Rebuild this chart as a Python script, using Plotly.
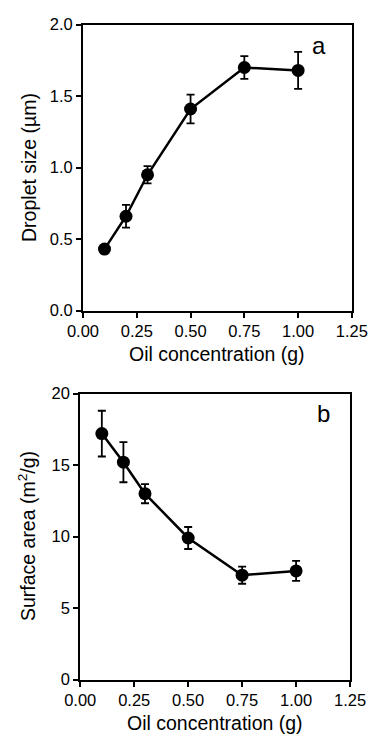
import plotly.graph_objects as go

oil = [0.1, 0.2, 0.3, 0.5, 0.75, 1.0]
droplet_size = [0.43, 0.66, 0.95, 1.41, 1.70, 1.68]
droplet_err = [0.02, 0.08, 0.06, 0.10, 0.08, 0.13]
surface_area = [17.2, 15.2, 13.0, 9.9, 7.3, 7.6]
surface_err = [1.6, 1.4, 0.67, 0.77, 0.6, 0.7]

x_ticks = [0, 0.25, 0.5, 0.75, 1.0, 1.25]
x_ticklabels = ["0.00", "0.25", "0.50", "0.75", "1.00", "1.25"]
y1_ticks = [0, 0.5, 1.0, 1.5, 2.0]
y1_ticklabels = ["0.0", "0.5", "1.0", "1.5", "2.0"]
y2_ticks = [0, 5, 10, 15, 20]

W, H = 389, 752
OFF = 8  # default page body margin
FONT = "Liberation Sans, Arial, Helvetica, sans-serif"

def px(v):
    return (v - OFF) / W

def py(v):
    return 1 - (v - OFF) / H

fig = go.Figure()
fig.add_trace(go.Scatter(
    x=oil, y=droplet_size, mode="lines+markers",
    line=dict(color="black", width=2.5),
    marker=dict(color="black", size=13),
    error_y=dict(type="data", array=droplet_err, color="black", thickness=1.8, width=4),
    xaxis="x", yaxis="y", showlegend=False))
fig.add_trace(go.Scatter(
    x=oil, y=surface_area, mode="lines+markers",
    line=dict(color="black", width=2.5),
    marker=dict(color="black", size=13),
    error_y=dict(type="data", array=surface_err, color="black", thickness=1.8, width=4),
    xaxis="x2", yaxis="y2", showlegend=False))

axis_common = dict(showgrid=False, zeroline=False, showline=True, linecolor="black",
                   linewidth=2, mirror=True, ticks="outside", ticklen=5,
                   tickwidth=2, tickcolor="black", ticklabeloverflow="allow",
                   tickfont=dict(family=FONT, size=16.5, color="black"))

fig.update_layout(
    width=W, height=H, margin=dict(l=0, r=0, t=0, b=0),
    paper_bgcolor="white", plot_bgcolor="white",
    xaxis=dict(domain=[px(81), px(374)], range=[0, 1.25], tickvals=x_ticks,
               ticktext=x_ticklabels, anchor="y", **axis_common),
    yaxis=dict(domain=[py(317), py(24)], range=[0, 2.0], tickvals=y1_ticks,
               ticktext=y1_ticklabels, anchor="x", **axis_common),
    xaxis2=dict(domain=[px(78), px(372)], range=[0, 1.25], tickvals=x_ticks,
                ticktext=x_ticklabels, anchor="y2", **axis_common),
    yaxis2=dict(domain=[py(695), py(402)], range=[0, 20], tickvals=y2_ticks,
                anchor="x2", **axis_common),
)

ann_font = dict(family=FONT, size=19.5, color="black")
fig.add_annotation(text="Oil concentration (g)", x=px((81 + 374) / 2), y=py(361),
                   xref="paper", yref="paper", showarrow=False, font=ann_font,
                   xanchor="center", yanchor="middle")
fig.add_annotation(text="Oil concentration (g)", x=px((78 + 372) / 2), y=py(740),
                   xref="paper", yref="paper", showarrow=False, font=ann_font,
                   xanchor="center", yanchor="middle")
fig.add_annotation(text="Droplet size (µm)", x=px(22), y=py(170),
                   xref="paper", yref="paper", showarrow=False, font=ann_font,
                   textangle=-90, xanchor="center", yanchor="middle")
fig.add_annotation(text="Surface area (m<sup>2</sup>/g)", x=px(20), y=py(548),
                   xref="paper", yref="paper", showarrow=False, font=ann_font,
                   textangle=-90, xanchor="center", yanchor="middle")
fig.add_annotation(text="a", x=px(338), y=py(45), xref="paper", yref="paper",
                   showarrow=False, font=dict(family=FONT, size=24, color="black"),
                   xanchor="center", yanchor="middle")
fig.add_annotation(text="b", x=px(343), y=py(422), xref="paper", yref="paper",
                   showarrow=False, font=dict(family=FONT, size=24, color="black"),
                   xanchor="center", yanchor="middle")

fig.write_html("out.html")
